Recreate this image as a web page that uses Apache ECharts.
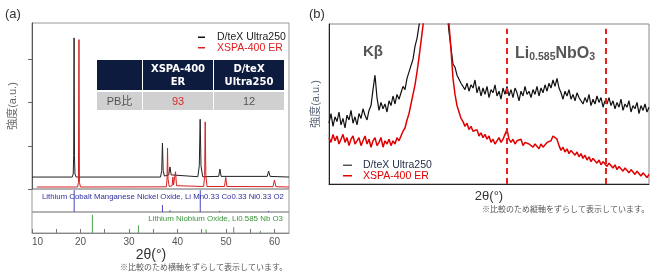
<!DOCTYPE html>
<html>
<head>
<meta charset="utf-8">
<script src="https://cdn.jsdelivr.net/npm/echarts@6/dist/echarts.min.js"></script>
<style>
html, body { margin: 0; padding: 0; background: #fff; }
#chart { width: 658px; height: 276px; }
</style>
</head>
<body>
<div id="chart"></div>
<script>
// ---- (a) 全体パターン [2θ, 強度] ----
const dtexProfile = [
  [10, 7.2], [18.3, 7.2], [18.5, 9], [18.6, 20], [18.68, 91], [18.76, 20], [18.86, 9], [19.1, 7.2],
  [36.5, 7.2], [36.75, 11], [36.9, 27.7], [37.05, 11], [37.3, 7.8], [38.2, 8.5], [38.45, 13.3], [38.7, 8.5],
  [44.2, 7.4], [44.5, 14], [44.68, 42], [44.85, 14], [45.2, 7.4], [48.5, 7.6], [48.75, 12], [49.0, 7.6],
  [58.5, 7.6], [58.8, 10.8], [59.1, 7.6], [63, 7.2]
]
const xspaProfile = [
  [11, 1.2], [19.4, 1.2], [19.58, 4], [19.68, 90], [19.78, 4], [20.0, 1.2],
  [37.7, 1.3], [37.85, 6], [37.95, 24.7], [38.05, 6], [38.3, 1.5], [38.9, 2], [39.05, 7.2], [39.2, 2.5],
  [39.45, 3], [39.6, 10.4], [39.8, 2], [45.4, 1.5], [45.6, 8], [45.72, 40.4], [45.85, 8], [46.1, 1.5],
  [49.7, 1.5], [49.95, 7], [50.2, 1.5], [59.7, 1.4], [60.0, 5.4], [60.3, 1.4], [63, 1.2]
]
// 参照パターン（スティック）
const lcmnoSticks = [[18.7, 100], [36.9, 32], [38.45, 8], [44.7, 100], [48.7, 5], [58.8, 5]]
const lnoSticks = [[22.45, 100], [31.95, 42], [45.9, 20], [51.6, 32], [57.1, 12]]
const xTickValues = [10, 15, 20, 25, 30, 35, 40, 45, 50, 55, 60]
const xLabelValues = [10, 20, 30, 40, 50, 60]
const yTickValues = [0, 26, 52, 78]
// 表
const tableHead = ['', 'XSPA-400\nER', 'D/teX\nUltra250']
const tableRow = ['PB比', '93', '12']
const seriesNames = ['D/teX Ultra250', 'XSPA-400 ER']

// ---- (b) 拡大図 ステップスキャン ----
const scanStart = 15.5
const scanStep = 0.0625
const dtexZoom = [
  38, 44, 36, 42, 39, 45, 37, 41, 35, 43, 40, 46, 38, 42, 37, 44,
  41, 47, 43, 40, 46, 49,
  59, 68, 54,
  46, 51, 47, 50, 45, 52, 49, 55, 50, 56, 53,
  57, 61, 59, 66, 67, 74, 78, 86, 91, 99, 106,
  118, 135, 155, 185, 225, 265, 285, 265, 225, 185, 150, 126, 108,
  95, 85, 75, 73, 68, 67, 63,
  64, 59, 63, 58, 62, 60, 65, 57, 61,
  55, 60, 56, 61, 54, 59, 57, 62, 55, 58, 53, 60, 56, 61, 55,
  59, 54, 60, 57, 52, 58, 55, 61, 56, 58,
  54, 59, 56, 61, 55, 60, 57, 62, 58, 63, 60, 65, 61, 66, 60,
  57, 53, 58, 55, 59, 53, 56, 52, 57, 54,
  55, 50, 54, 51, 56, 49, 53, 50, 55, 51, 54, 48, 52, 50, 54,
  49, 52, 47, 51, 48, 53, 46, 50, 48, 52, 45, 49, 47, 51, 44, 49, 46, 50, 45, 48
]
const xspaZoom = [
  29, 26, 31, 27, 30, 25, 28, 31, 26, 29, 24, 28, 30, 25, 27, 29, 24, 27, 30, 25,
  28, 23, 27, 29, 24, 26, 29, 23, 27, 25, 28, 24, 27, 25, 29, 27,
  30, 33, 35, 40, 44, 50, 56, 62, 70, 79, 89, 99,
  112, 135, 170, 215, 260, 290, 275, 240, 200, 160, 130, 112, 100,
  84, 66, 56, 49, 45, 41, 39,
  36, 38, 34, 36, 33,
  32, 34, 30, 32, 29, 31, 28, 30,
  26, 28, 25, 27, 29, 26, 28, 31, 34, 28, 26, 28, 25, 27, 26, 28, 24, 26, 27, 25,
  26, 23, 25, 24, 22, 25, 23, 24, 26, 25, 27, 30, 31, 28,
  24, 21, 23, 20, 22, 19, 21, 20, 18, 20, 17,
  19, 16, 18, 15, 17, 14, 16, 15, 13, 15, 12, 14, 13, 11, 13,
  12, 10, 12, 9, 11, 10, 8, 10, 9, 7, 9, 8, 6, 8, 7, 5, 7, 6, 4, 6
]
const lnoRange = [21.05, 24.15]

const FONT = '"Liberation Sans", "Noto Sans CJK JP", sans-serif'
const chartInstance = echarts.init(document.getElementById('chart'))

// スティック描画
function stickSeries (data, color, axisIndex) {
  return {
    type: 'custom',
    xAxisIndex: axisIndex,
    yAxisIndex: axisIndex,
    silent: true,
    renderItem: (params, api) => {
      const p0 = api.coord([api.value(0), 0])
      const p1 = api.coord([api.value(0), api.value(1)])
      return {
        type: 'line',
        shape: { x1: p0[0], y1: p0[1], x2: p1[0], y2: p1[1] },
        style: { stroke: color, lineWidth: 1 }
      }
    },
    data: data
  }
}

function text (x, y, str, opt) {
  return {
    type: 'text',
    x: x,
    y: y,
    silent: true,
    z: 100,
    style: Object.assign({ text: str, fontFamily: FONT, fontSize: 11, fill: '#333', align: 'left', verticalAlign: 'middle' }, opt)
  }
}

// 表
const tableCols = [[97, 45], [143, 70], [214, 70]]
const tableGraphic = []
tableCols.forEach((c, i) => {
  tableGraphic.push({ type: 'rect', shape: { x: c[0], y: 60, width: c[1], height: 30 }, style: { fill: '#0d1b3e' }, z: 90 })
  tableGraphic.push({ type: 'rect', shape: { x: c[0], y: 92, width: c[1], height: 18 }, style: { fill: '#d0d0d0' }, z: 90 })
  tableGraphic.push(text(c[0] + c[1] / 2, 75.5, tableHead[i], {
    align: 'center', fill: '#fff', fontWeight: 'bold', fontSize: 10, lineHeight: 13, fontFamily: '"DejaVu Sans", sans-serif'
  }))
  tableGraphic.push(text(c[0] + c[1] / 2, 101.5, tableRow[i], {
    align: 'center', fill: i === 1 ? '#e02a2a' : '#555', fontSize: 11
  }))
})

const option = {
  animation: false,
  backgroundColor: '#fff',
  grid: [
    { left: 32, top: 23, width: 257, height: 166, show: true, borderColor: '#999', borderWidth: 1 },
    { left: 32, top: 189, width: 257, height: 23, show: true, borderColor: '#999', borderWidth: 1 },
    { left: 32, top: 212, width: 257, height: 21, show: true, borderColor: '#999', borderWidth: 1 },
    { left: 329, top: 24, width: 320, height: 160, show: true, borderColor: '#888', borderWidth: 1 }
  ],
  xAxis: [
    { gridIndex: 0, type: 'value', min: 10, max: 63, show: false },
    { gridIndex: 1, type: 'value', min: 10, max: 63, show: false },
    {
      gridIndex: 2,
      type: 'value',
      min: 10,
      max: 63,
      axisLine: { lineStyle: { color: '#888' } },
      axisTick: { inside: true, length: 4, customValues: xTickValues, lineStyle: { color: '#777' } },
      axisLabel: { customValues: xLabelValues, color: '#555', fontSize: 10, margin: 4, fontFamily: FONT, alignMinLabel: 'left' },
      splitLine: { show: false }
    },
    {
      gridIndex: 3,
      type: 'value',
      min: scanStart,
      max: scanStart + 160 * scanStep,
      axisLine: { lineStyle: { color: '#222' } },
      axisTick: { show: false },
      axisLabel: { show: false },
      splitLine: { show: false }
    }
  ],
  yAxis: [
    {
      gridIndex: 0,
      type: 'value',
      min: 0,
      max: 100,
      name: '強度(a.u.)',
      nameLocation: 'middle',
      nameGap: 14,
      nameTextStyle: { color: '#666', fontSize: 11, fontFamily: FONT },
      axisLine: { lineStyle: { color: '#555' } },
      axisTick: { length: 4, customValues: yTickValues, lineStyle: { color: '#666' } },
      axisLabel: { show: false },
      splitLine: { show: false }
    },
    { gridIndex: 1, type: 'value', min: 0, max: 105, show: false },
    { gridIndex: 2, type: 'value', min: 0, max: 115, show: false },
    {
      gridIndex: 3,
      type: 'value',
      min: 0,
      max: 100,
      name: '強度(a.u.)',
      nameLocation: 'middle',
      nameGap: 8,
      nameTextStyle: { color: '#5a6478', fontSize: 11, fontFamily: FONT },
      axisLine: { lineStyle: { color: '#222' } },
      axisTick: { show: false },
      axisLabel: { show: false },
      splitLine: { show: false }
    }
  ],
  legend: [
    {
      left: 193,
      top: 27,
      orient: 'vertical',
      itemGap: 0,
      itemWidth: 7,
      itemHeight: 1.5,
      icon: 'rect',
      selectedMode: false,
      textStyle: { fontSize: 10.5, fontFamily: FONT, padding: [0, 0, 0, 7] },
      data: [
        { name: seriesNames[0], itemStyle: { color: '#111' }, textStyle: { color: '#222' } },
        { name: seriesNames[1], itemStyle: { color: '#e02020' }, textStyle: { color: '#e02020' } }
      ]
    },
    {
      left: 338,
      top: 155,
      orient: 'vertical',
      itemGap: 0,
      itemWidth: 9,
      itemHeight: 1.5,
      icon: 'rect',
      selectedMode: false,
      textStyle: { fontSize: 10.5, fontFamily: FONT, padding: [0, 0, 0, 6] },
      data: [
        { name: seriesNames[0], itemStyle: { color: '#555' }, textStyle: { color: '#1f2b45' } },
        { name: seriesNames[1], itemStyle: { color: '#e00000' }, textStyle: { color: '#e00000' } }
      ]
    }
  ],
  series: [
    {
      name: seriesNames[0],
      type: 'line',
      xAxisIndex: 0,
      yAxisIndex: 0,
      showSymbol: false,
      lineStyle: { color: '#222', width: 1 },
      itemStyle: { color: '#222' },
      data: dtexProfile
    },
    {
      name: seriesNames[1],
      type: 'line',
      xAxisIndex: 0,
      yAxisIndex: 0,
      showSymbol: false,
      lineStyle: { color: '#d42020', width: 1 },
      itemStyle: { color: '#d42020' },
      data: xspaProfile
    },
    stickSeries(lcmnoSticks, '#4848c0', 1),
    stickSeries(lnoSticks, '#4aa04a', 2),
    {
      name: seriesNames[0],
      type: 'line',
      xAxisIndex: 3,
      yAxisIndex: 3,
      showSymbol: false,
      clip: true,
      lineStyle: { color: '#111', width: 1.2 },
      itemStyle: { color: '#111' },
      data: dtexZoom.map((v, i) => [scanStart + i * scanStep, v])
    },
    {
      name: seriesNames[1],
      type: 'line',
      xAxisIndex: 3,
      yAxisIndex: 3,
      showSymbol: false,
      clip: true,
      lineStyle: { color: '#e00000', width: 1.5 },
      itemStyle: { color: '#e00000' },
      data: xspaZoom.map((v, i) => [scanStart + i * scanStep, v]),
      markLine: {
        silent: true,
        symbol: 'none',
        label: { show: false },
        lineStyle: { color: '#e82020', width: 2, type: [6, 4] },
        data: lnoRange.map(x => [{ coord: [x, 0] }, { coord: [x, 97] }])
      }
    }
  ],
  graphic: [
    text(5, 14, '(a)', { fontSize: 13, fill: '#333' }),
    text(309, 14, '(b)', { fontSize: 13, fill: '#333' }),
    ...tableGraphic,
    text(42, 197, 'Lithium Cobalt Manganese Nickel Oxide, Li Mn0.33 Co0.33 Ni0.33 O2', { fontSize: 7.8, fill: '#2e2e9e' }),
    text(283, 219, 'Lithium Niobium Oxide, Li0.585 Nb O3', { fontSize: 7.9, fill: '#3a963a', align: 'right' }),
    text(151, 255, '2θ(°)', { fontSize: 14, fill: '#333', align: 'center' }),
    text(120, 268, '※比較のため横軸をずらして表示しています。', { fontSize: 8, fill: '#555' }),
    text(363, 52, 'Kβ', { fontSize: 15, fontWeight: 'bold', fill: '#555' }),
    text(515, 53, '{m|Li}{s|0.585}{m|NbO}{s|3}', {
      fill: '#555',
      rich: {
        m: { fontSize: 16, fontWeight: 'bold', fill: '#555', fontFamily: FONT, lineHeight: 18, verticalAlign: 'bottom' },
        s: { fontSize: 10.5, fontWeight: 'bold', fill: '#555', fontFamily: FONT, lineHeight: 14, verticalAlign: 'bottom' }
      }
    }),
    text(489, 196, '2θ(°)', { fontSize: 13, fill: '#333', align: 'center' }),
    text(482, 210, '※比較のため縦軸をずらして表示しています。', { fontSize: 8, fill: '#555' })
  ]
}
chartInstance.setOption(option)
</script>
</body>
</html>
